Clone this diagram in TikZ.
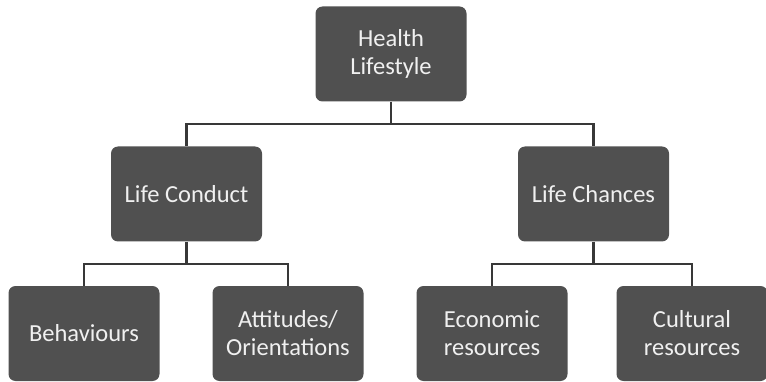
\documentclass[tikz,border=0pt]{standalone}
\usepackage{fontspec}
\setmainfont{Carlito}
\begin{document}
\begin{tikzpicture}[x=1pt,y=-1pt,
  box/.style={draw=none,fill=boxgray,rounded corners=7pt,minimum width=151pt,minimum height=95pt,
    text=white!94!black,align=center,font=\fontsize{24.5}{28}\selectfont,inner sep=0pt},
  conn/.style={draw=linegray,line width=2.8pt}]
\definecolor{boxgray}{HTML}{505050}
\definecolor{linegray}{HTML}{383838}
\useasboundingbox (0,0) rectangle (766,382);
\node[box] (hl) at (391,54) {Health\\Lifestyle};
\node[box] (lc) at (186.5,194) {Life Conduct};
\node[box] (ch) at (593.5,194) {Life Chances};
\node[box] (be) at (84,333.5) {Behaviours};
\node[box] (at) at (288,333.5) {Attitudes/\\Orientations};
\node[box] (ec) at (492,333.5) {Economic\\resources};
\node[box] (cu) at (692,333.5) {Cultural\\resources};
\coordinate (j1) at (391,124);
\coordinate (j2) at (186.5,264);
\coordinate (j3) at (593.5,264);
\draw[conn] (hl.south) -- (j1);
\draw[conn] (j1) -| (lc.north);
\draw[conn] (j1) -| (ch.north);
\draw[conn] (lc.south) -- (j2);
\draw[conn] (j2) -| (be.north);
\draw[conn] (j2) -| (at.north);
\draw[conn] (ch.south) -- (j3);
\draw[conn] (j3) -| (ec.north);
\draw[conn] (j3) -| (cu.north);
\end{tikzpicture}
\end{document}
